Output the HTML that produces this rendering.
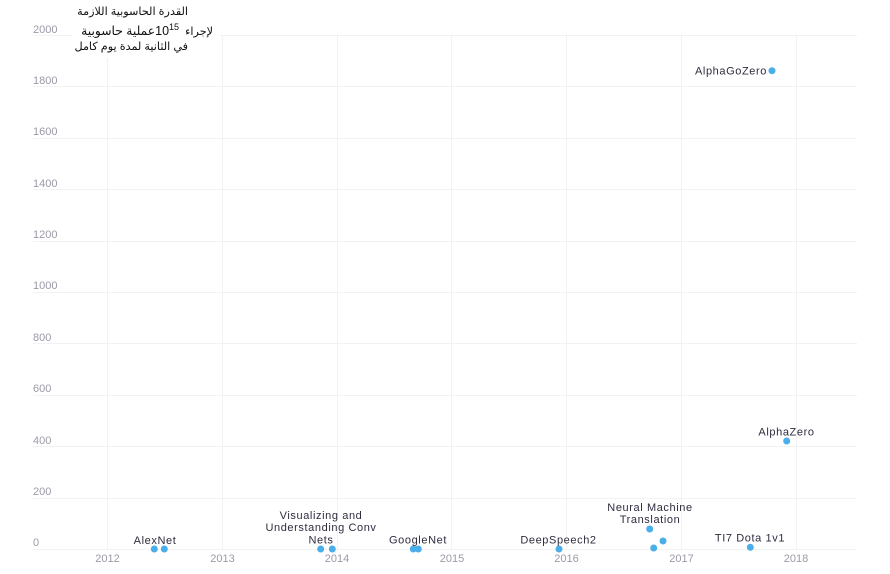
<!DOCTYPE html>
<html><head><meta charset="utf-8"><style>
html,body{margin:0;padding:0;background:#fff;}
body{width:890px;height:574px;position:relative;overflow:hidden;}
svg{position:absolute;left:0;top:0;}
.t{font-family:"Liberation Sans",sans-serif;font-size:11px;fill:#2d2c3e;letter-spacing:0.6px;text-anchor:middle;}
.ax{font-family:"Liberation Sans",sans-serif;font-size:11px;fill:#9b9aa8;}
#title{position:absolute;left:72px;top:0;width:148px;height:58px;background:#fff;}
.tl{position:absolute;direction:rtl;white-space:nowrap;font-family:"Liberation Sans","DejaVu Sans",sans-serif;font-size:11.2px;color:#111;line-height:14px;}
.tl .n{font-size:12.5px;}
.tl .w{font-size:12.3px;}
.tl sup{font-size:9px;line-height:0;vertical-align:5px;margin-right:3px;}
</style></head><body>
<svg width="890" height="574" viewBox="0 0 890 574">
<g stroke="#f2f2f5" stroke-width="1">
<line x1="33" y1="35.5" x2="857" y2="35.5"/>
<line x1="33" y1="86.5" x2="857" y2="86.5"/>
<line x1="33" y1="138.5" x2="857" y2="138.5"/>
<line x1="33" y1="189.5" x2="857" y2="189.5"/>
<line x1="33" y1="241.5" x2="857" y2="241.5"/>
<line x1="33" y1="292.5" x2="857" y2="292.5"/>
<line x1="33" y1="343.5" x2="857" y2="343.5"/>
<line x1="33" y1="395.5" x2="857" y2="395.5"/>
<line x1="33" y1="446.5" x2="857" y2="446.5"/>
<line x1="33" y1="498.5" x2="857" y2="498.5"/>
<line x1="33" y1="549.5" x2="857" y2="549.5"/>
<line x1="107.5" y1="35" x2="107.5" y2="549"/>
<line x1="222.5" y1="35" x2="222.5" y2="549"/>
<line x1="337.5" y1="35" x2="337.5" y2="549"/>
<line x1="451.5" y1="35" x2="451.5" y2="549"/>
<line x1="566.5" y1="35" x2="566.5" y2="549"/>
<line x1="681.5" y1="35" x2="681.5" y2="549"/>
<line x1="796.5" y1="35" x2="796.5" y2="549"/>
</g>
<g class="ax">
<text x="33" y="33">2000</text>
<text x="33" y="84">1800</text>
<text x="33" y="135">1600</text>
<text x="33" y="187">1400</text>
<text x="33" y="238">1200</text>
<text x="33" y="289">1000</text>
<text x="33" y="341">800</text>
<text x="33" y="392">600</text>
<text x="33" y="444">400</text>
<text x="33" y="495">200</text>
<text x="33" y="546">0</text>
</g>
<g class="ax" text-anchor="middle">
<text x="107.5" y="562">2012</text>
<text x="222.5" y="562">2013</text>
<text x="337" y="562">2014</text>
<text x="452" y="562">2015</text>
<text x="566.5" y="562">2016</text>
<text x="681.5" y="562">2017</text>
<text x="796" y="562">2018</text>
</g>
<g fill="#4aaee9">
<circle cx="154.3" cy="549" r="3.5"/>
<circle cx="164.3" cy="549" r="3.5"/>
<circle cx="320.7" cy="549" r="3.5"/>
<circle cx="332.3" cy="549" r="3.5"/>
<circle cx="413.3" cy="549" r="3.5"/>
<circle cx="418.3" cy="549" r="3.5"/>
<circle cx="559" cy="549" r="3.5"/>
<circle cx="649.7" cy="529" r="3.5"/>
<circle cx="663" cy="541" r="3.5"/>
<circle cx="653.7" cy="548" r="3.5"/>
<circle cx="750.3" cy="547.3" r="3.5"/>
<circle cx="786.7" cy="441" r="3.5"/>
<circle cx="772" cy="70.7" r="3.5"/>
</g>
<g class="t">
<text x="155" y="544">AlexNet</text>
<text x="321" y="519">Visualizing and</text>
<text x="321" y="531">Understanding Conv</text>
<text x="321" y="543.5">Nets</text>
<text x="418" y="543.5">GoogleNet</text>
<text x="558.5" y="543.5">DeepSpeech2</text>
<text x="650" y="511">Neural Machine</text>
<text x="650" y="523">Translation</text>
<text x="750" y="541.5">TI7 Dota 1v1</text>
<text x="786.5" y="435.5">AlphaZero</text>
<text x="767" y="74.5" style="text-anchor:end">AlphaGoZero</text>
</g>
</svg>
<div id="title"></div>
<div class="tl" style="right:702px;top:5px;">القدرة الحاسوبية اللازمة</div>
<div class="tl" style="right:677px;top:24px;">لإجراء <span class="n">10</span><sup>15</sup><span class="w">عملية حاسوبية</span></div>
<div class="tl" style="right:702px;top:40px;">في الثانية لمدة يوم كامل</div>
</body></html>
